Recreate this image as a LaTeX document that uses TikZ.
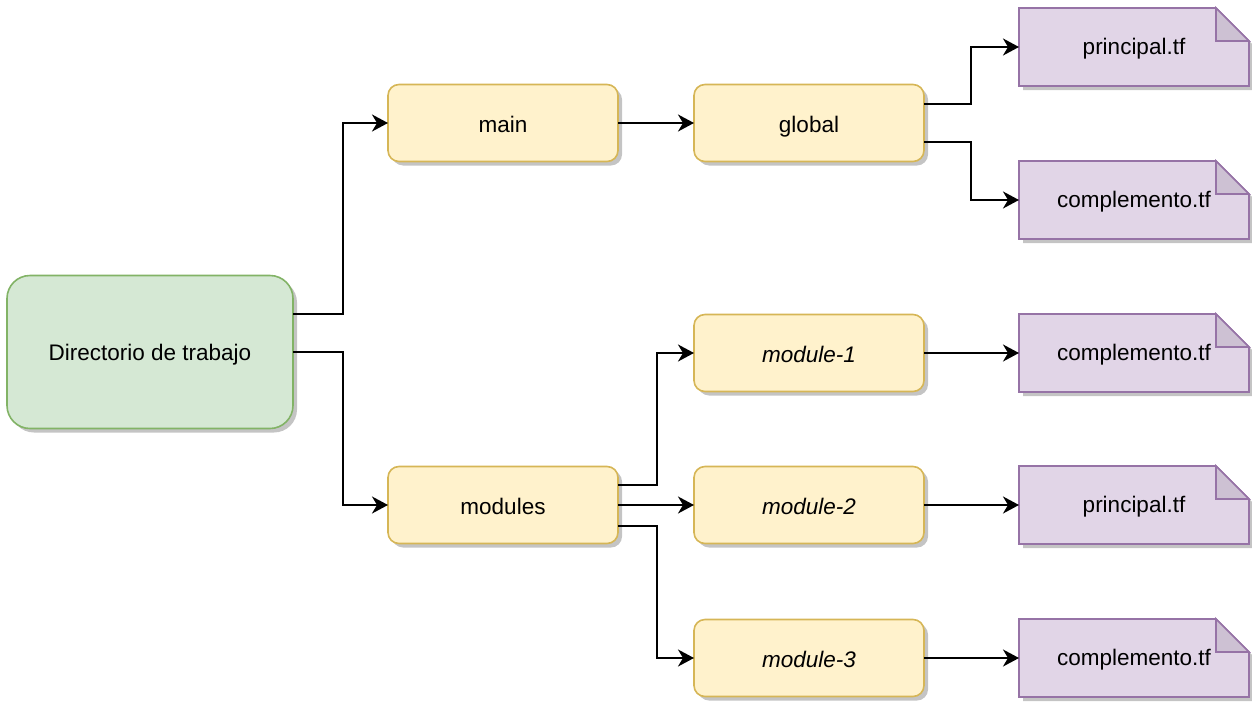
\documentclass[tikz,border=0pt]{standalone}
\usepackage{fontspec}
\setmainfont{Liberation Sans}
\usepackage{tikz}
\usetikzlibrary{positioning,arrows.meta,shadows,backgrounds}

\definecolor{dirfill}{HTML}{D5E8D4}
\definecolor{dirline}{HTML}{82B366}
\definecolor{folderfill}{HTML}{FFF2CC}
\definecolor{folderline}{HTML}{D6B656}
\definecolor{docfill}{HTML}{E1D5E7}
\definecolor{docline}{HTML}{9673A6}
\definecolor{docfold}{HTML}{CDC1D3}
\definecolor{shadowgrey}{HTML}{C4C4C4}

\begin{document}
\begin{tikzpicture}[
	x=1pt, y=1pt,
	ar/.style={-{Stealth[length=16pt,width=17pt,inset=5pt]},line width=2pt},
	myshadow/.style={
	  drop shadow={shadow xshift=4pt,shadow yshift=-4pt,fill=shadowgrey,opacity=1}
	  },
	dirbox/.style={
	  draw=dirline,
	  fill=dirfill,
	  line width=1.6pt,
	  rounded corners=23pt,
	  minimum width=286pt,
	  minimum height=153pt,
	  outer sep=0pt,
	  text height=16pt,
	  text depth=0pt,
	  myshadow,
	  font=\fontsize{22.5}{27}\selectfont
	  },
	folder/.style={
	  draw=folderline,
	  fill=folderfill,
	  line width=1.6pt,
	  rounded corners=11pt,
	  minimum width=230pt,
	  minimum height=77pt,
	  outer sep=0pt,
	  text height=18pt,
	  text depth=0pt,
	  myshadow,
	  font=\fontsize{22.5}{27}\selectfont
	  },
	doc/.style={
	  minimum width=230pt,
	  minimum height=78pt,
	  outer sep=0pt,
	  text height=14pt,
	  text depth=0pt,
	  font=\fontsize{22.5}{27}\selectfont
	  },
	docedge/.style={draw=docline,line width=1.6pt,line join=miter}
	]
		\useasboundingbox (0,0) rectangle (1252,-704);

		\node[dirbox] (dir) at (150,-352) {Directorio de trabajo};
		\node[folder,right=95pt of dir,yshift=229pt] (main) {main};
		\node[folder,right=95pt of dir,yshift=-153pt] (modules) {modules};
		\node[folder,right=76pt of main] (global) {global};
		\node[folder,above right=75pt and 76pt of modules] (mod1) {\textit{module-1}};
		\node[folder,right=76pt of modules] (mod2) {\textit{module-2}};
		\node[folder,below right=76pt and 76pt of modules] (mod3) {\textit{module-3}};

		\node[doc,right=95pt of global,yshift=76pt] (gprin) {principal.tf};
		\node[doc,right=95pt of global,yshift=-77pt] (gcomp) {complemento.tf};
		\node[doc,right=95pt of mod1] (m1comp) {complemento.tf};
		\node[doc,right=95pt of mod2] (m2prin) {principal.tf};
		\node[doc,right=95pt of mod3] (m3comp) {complemento.tf};

		% file shapes with folded corner
		\begin{scope}[on background layer]
		\foreach \f in {gprin,gcomp,m1comp,m2prin,m3comp} {
			\fill[shadowgrey] ([shift={(4pt,-4pt)}]\f.south west) -- ([shift={(4pt,-4pt)}]\f.north west)
				-- ([shift={(-29pt,-4pt)}]\f.north east) -- ([shift={(4pt,-37pt)}]\f.north east)
				-- ([shift={(4pt,-4pt)}]\f.south east) -- cycle;
			\draw[docedge,fill=docfill] (\f.south west) -- (\f.north west)
				-- ([xshift=-33pt]\f.north east) -- ([yshift=-33pt]\f.north east)
				-- (\f.south east) -- cycle;
			\draw[docedge,fill=docfold] ([xshift=-33pt]\f.north east)
				-- ([shift={(-33pt,-33pt)}]\f.north east) -- ([yshift=-33pt]\f.north east) -- cycle;
		}
		\end{scope}

		\draw[ar]
			([yshift=38pt]dir.east) -- ++(50pt,0) |- (main.west);
		\draw[ar]
			(dir.east) -- ++(50pt,0) |- (modules.west);
		\draw[ar]
			(main) -- (global);
		\draw[ar]
			([yshift=19pt]global.east) -- ++(47pt,0) |- (gprin.west);
		\draw[ar]
			([yshift=-19pt]global.east) -- ++(47pt,0) |- (gcomp.west);
		\draw[ar]
			([yshift=20pt]modules.east) -- ++(39pt,0) |- (mod1.west);
		\draw[ar]
			(modules) -- (mod2);
		\draw[ar]
			([yshift=-21pt]modules.east) -- ++(39pt,0) |- (mod3.west);
		\draw[ar]
			(mod1) -- (m1comp);
		\draw[ar]
			(mod2) -- (m2prin);
		\draw[ar]
			(mod3) -- (m3comp);
	\end{tikzpicture}
\end{document}
